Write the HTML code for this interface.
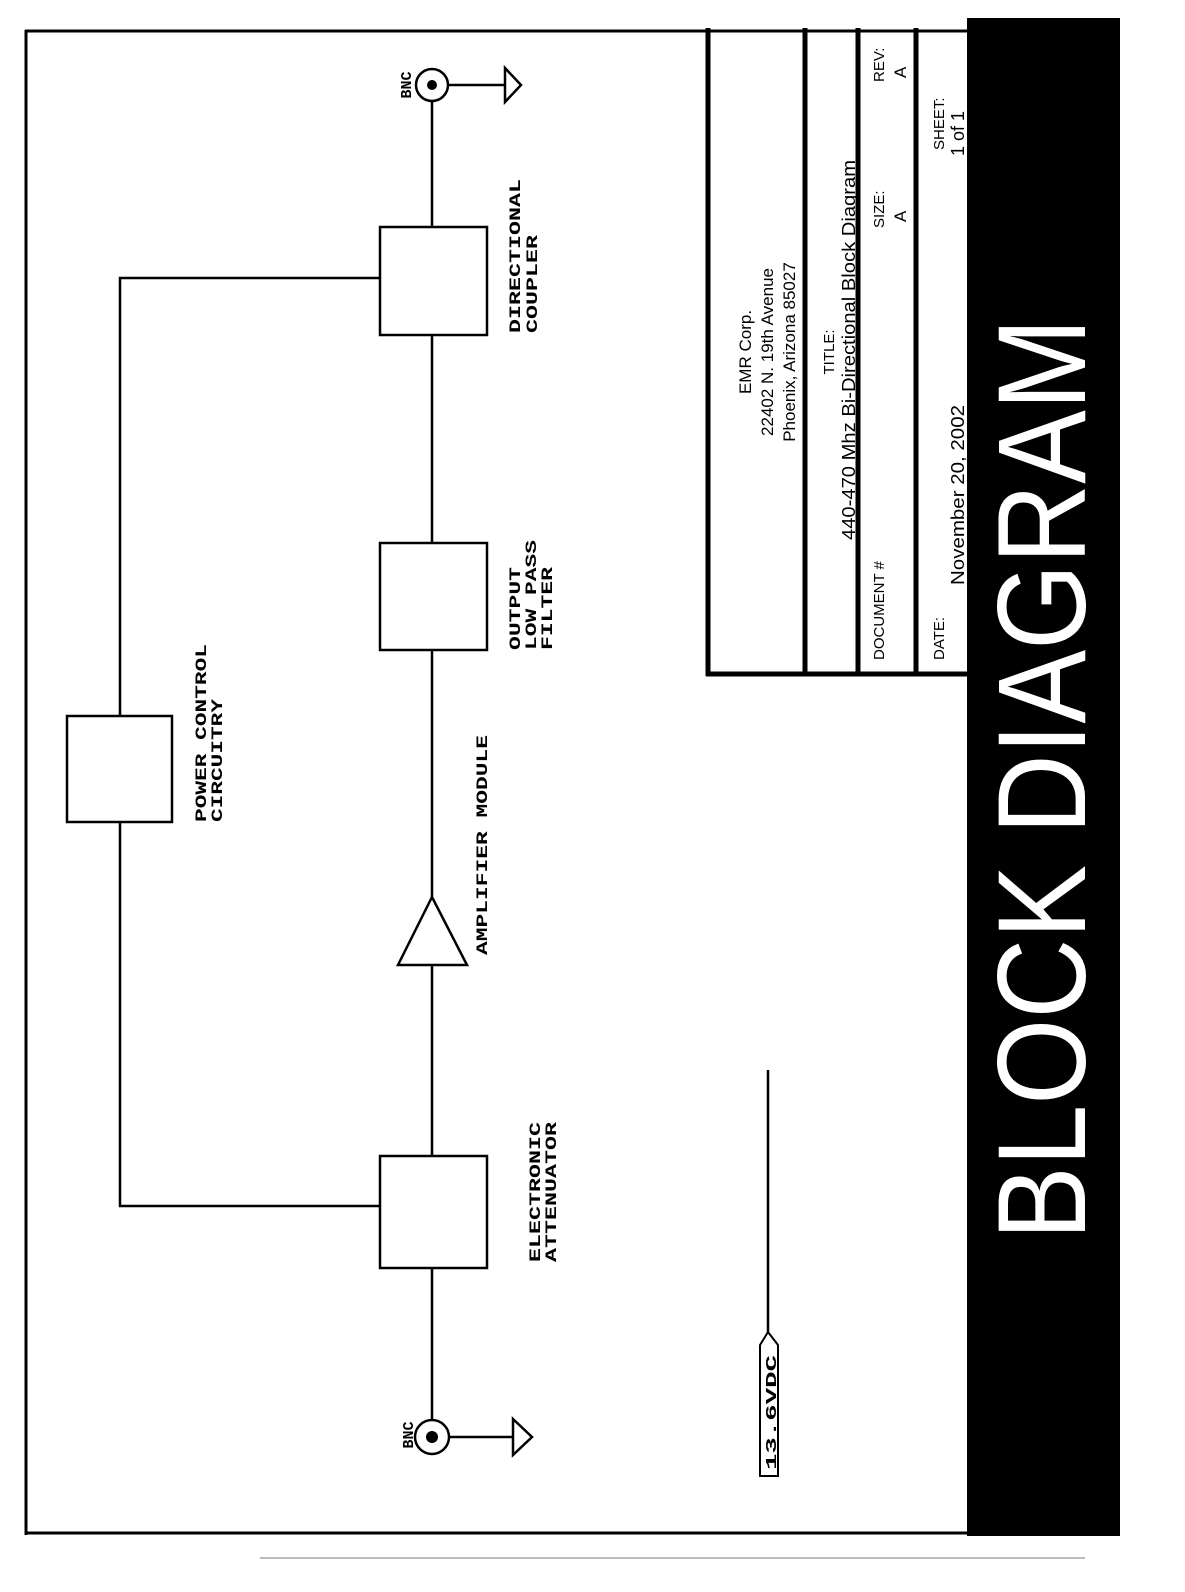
<!DOCTYPE html>
<html><head><meta charset="utf-8"><style>
html,body{margin:0;padding:0;background:#fff;}
svg{display:block;}
.m{font-family:"Liberation Mono",monospace;font-weight:bold;font-size:16px;fill:#000;}
.s{font-family:"Liberation Sans",sans-serif;fill:#000;}
</style></head><body>
<svg width="1185" height="1592" viewBox="0 0 1185 1592" xmlns="http://www.w3.org/2000/svg">
<rect width="1185" height="1592" fill="#fff"/>
<g stroke="#000" fill="none">
<line x1="26" y1="30" x2="26" y2="1535" stroke-width="3"/>
<line x1="25" y1="31" x2="970" y2="31" stroke-width="3"/>
<line x1="25" y1="1533" x2="970" y2="1533" stroke-width="3"/>
</g>
<rect x="967" y="18" width="153" height="1518" fill="#000"/>
<g stroke="#000" fill="none">
<line x1="708" y1="28" x2="708" y2="676" stroke-width="5"/>
<line x1="706" y1="674" x2="968" y2="674" stroke-width="5"/>
<line x1="805" y1="28" x2="805" y2="676" stroke-width="5"/>
<line x1="858" y1="28" x2="858" y2="676" stroke-width="5"/>
<line x1="916" y1="28" x2="916" y2="676" stroke-width="5"/>
</g>
<g class="s" font-size="17">
<text transform="translate(751,352) rotate(-90)" text-anchor="middle">EMR Corp.</text>
<text transform="translate(773,352) rotate(-90)" text-anchor="middle">22402 N. 19th Avenue</text>
<text transform="translate(795,352) rotate(-90)" text-anchor="middle">Phoenix, Arizona  85027</text>
<text transform="translate(834,352) rotate(-90)" text-anchor="middle" font-size="15">TITLE:</text>
<text transform="translate(855,540) rotate(-90)" textLength="380" lengthAdjust="spacingAndGlyphs" font-size="18">440-470 Mhz Bi-Directional Block Diagram</text>
<text transform="translate(884,660) rotate(-90)" font-size="15">DOCUMENT #</text>
<text transform="translate(884,228) rotate(-90)" font-size="15">SIZE:</text>
<text transform="translate(906,222) rotate(-90)">A</text>
<text transform="translate(884,82) rotate(-90)" font-size="15">REV:</text>
<text transform="translate(906,78) rotate(-90)">A</text>
<text transform="translate(944,660) rotate(-90)" font-size="15">DATE:</text>
<text transform="translate(964,585) rotate(-90)" textLength="180" lengthAdjust="spacingAndGlyphs" font-size="18">November 20, 2002</text>
<text transform="translate(944,150) rotate(-90)" font-size="15">SHEET:</text>
<text transform="translate(964,156) rotate(-90)" font-size="18">1 of 1</text>
</g>
<text class="s" transform="translate(1085,1240) rotate(-90)" font-size="125" style="fill:#fff" textLength="922" lengthAdjust="spacingAndGlyphs">BLOCK DIAGRAM</text>
<g stroke="#000" stroke-width="2.5" fill="none">
<line x1="432" y1="100" x2="432" y2="1422"/>
<rect x="380" y="227" width="107" height="108" fill="#fff"/>
<rect x="380" y="543" width="107" height="107" fill="#fff"/>
<rect x="380" y="1156" width="107" height="112" fill="#fff"/>
<polygon points="432,897 398,965 467,965" fill="#fff"/>
<polyline points="380,278 120,278 120,716"/>
<rect x="67" y="716" width="105" height="106" fill="#fff"/>
<polyline points="120,822 120,1206 380,1206"/>
<circle cx="432" cy="85" r="16" fill="#fff"/>
<line x1="448" y1="85" x2="505" y2="85"/>
<polygon points="505,68 505,102 521,85"/>
<circle cx="432" cy="1437" r="17" fill="#fff"/>
<line x1="449" y1="1437" x2="513" y2="1437"/>
<polygon points="513,1419 513,1455 532,1437"/>
<line x1="768" y1="1070" x2="768" y2="1332"/>
<polygon points="768,1332 778,1345 778,1476 760,1476 760,1345" stroke-width="2"/>
</g>
<circle cx="432" cy="85" r="5" fill="#000"/>
<circle cx="432" cy="1437" r="6" fill="#000"/>
<g class="m">
<text transform="translate(411,85) rotate(-90)" text-anchor="middle" font-size="15">BNC</text>
<text transform="translate(413,1435) rotate(-90)" text-anchor="middle" font-size="15">BNC</text>
<text transform="translate(520,333) rotate(-90)" textLength="154" lengthAdjust="spacingAndGlyphs">DIRECTIONAL</text>
<text transform="translate(537,333) rotate(-90)" textLength="98" lengthAdjust="spacingAndGlyphs">COUPLER</text>
<text transform="translate(520,650) rotate(-90)" textLength="83" lengthAdjust="spacingAndGlyphs">OUTPUT</text>
<text transform="translate(536,650) rotate(-90)" textLength="110" lengthAdjust="spacingAndGlyphs">LOW PASS</text>
<text transform="translate(552,650) rotate(-90)" textLength="83" lengthAdjust="spacingAndGlyphs">FILTER</text>
<text transform="translate(487,955) rotate(-90)" textLength="220" lengthAdjust="spacingAndGlyphs">AMPLIFIER MODULE</text>
<text transform="translate(540,1262) rotate(-90)" textLength="140" lengthAdjust="spacingAndGlyphs">ELECTRONIC</text>
<text transform="translate(556,1262) rotate(-90)" textLength="140" lengthAdjust="spacingAndGlyphs">ATTENUATOR</text>
<text transform="translate(206,822) rotate(-90)" textLength="178" lengthAdjust="spacingAndGlyphs">POWER CONTROL</text>
<text transform="translate(222,822) rotate(-90)" textLength="123" lengthAdjust="spacingAndGlyphs">CIRCUITRY</text>
<text transform="translate(776,1470) rotate(-90)" textLength="115" lengthAdjust="spacingAndGlyphs" font-size="15">13.6VDC</text>
</g>
<line x1="260" y1="1558" x2="1085" y2="1558" stroke="#777" stroke-width="1"/>
</svg>
</body></html>
